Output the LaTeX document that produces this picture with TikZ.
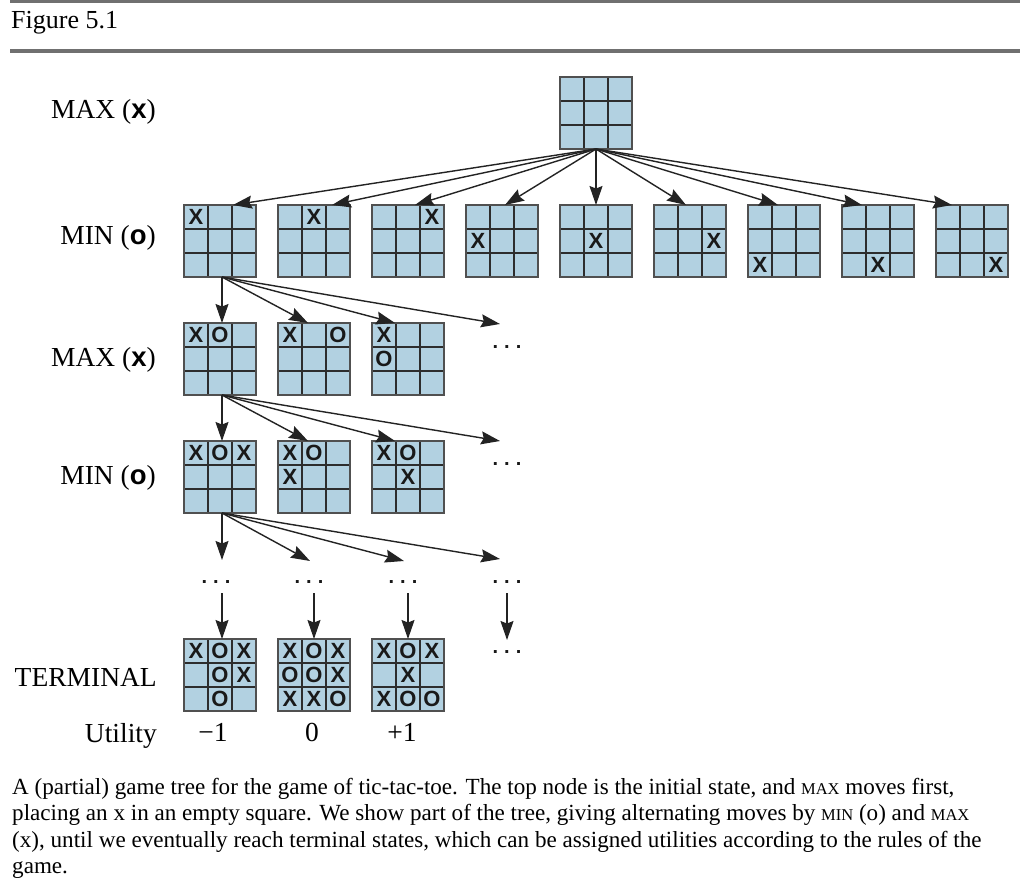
\documentclass[tikz,border=0pt]{standalone}
\usepackage{fontspec}
\setmainfont{Liberation Serif}
\newfontfamily\herosb{Liberation Sans Bold}
\usetikzlibrary{calc,arrows.meta}
\definecolor{boardblue}{RGB}{178,209,225}
\definecolor{gridgray}{RGB}{45,45,45}
\definecolor{framegray}{RGB}{80,80,80}
\definecolor{linec}{RGB}{35,35,35}
\definecolor{rulegray}{RGB}{112,112,112}
\definecolor{markc}{RGB}{25,25,25}
\tikzset{
 board/.style={fill=boardblue, inner sep=0, outer sep=0, minimum size=72pt, draw=none},
 gridln/.style={draw=gridgray, line width=1.8pt},
 frame/.style={draw=framegray, line width=2.2pt},
 xomark/.style={font=\herosb\fontsize{22}{22}\selectfont, text=markc, inner sep=0},
 arr/.style={draw=linec, line width=1.4pt, -{Stealth[length=19pt,width=13pt,inset=2.5pt]}},
 lab/.style={font=\fontsize{27.5}{30}\selectfont, anchor=base east, inner sep=0},
 val/.style={font=\fontsize{27.5}{30}\selectfont, anchor=base, inner sep=0},
 dotsn/.style={font=\herosb\fontsize{20}{20}\selectfont, text=markc, inner sep=0},
 capline/.style={font=\fontsize{23.1}{26}\selectfont, anchor=base west, inner sep=0},
 rulel/.style={draw=rulegray, line width=3.2pt}
}
\newcommand\fakesc[1]{{\fontsize{16.5}{18}\selectfont #1}}
\newcommand\tdots{.\hspace{6pt}.\hspace{6pt}.}
\newcommand\tttb[3]{%
 \node[board] (#1) at ({#2+36},{#3+36}) {};
 \draw[gridln] ({#2+24},#3) -- ({#2+24},{#3+72}) ({#2+48},#3) -- ({#2+48},{#3+72})
   (#2,{#3+24}) -- ({#2+72},{#3+24}) (#2,{#3+48}) -- ({#2+72},{#3+48});
 \draw[frame] (#1.north west) rectangle (#1.south east);}
\newcommand\tttmark[4]{\node[xomark] (#1-#2#3) at ($(#1.north west)+({12+24*#2},{12+24*#3})$) {#4};}
\begin{document}
\begin{tikzpicture}[x=1pt,y=-1pt]
\fill[white] (0,0) rectangle (1028,880);
\useasboundingbox (0,0) rectangle (1028,880);
% header
\draw[rulel] (10,1.5) -- (1020,1.5);
\node[font=\fontsize{26}{28}\selectfont, anchor=base west, inner sep=0] (fig) at (11,29) {Figure 5.1};
\draw[rulel] (10,51) -- (1020,51);
% labels
\node[lab] (l1) at (156,119) {MAX ({\herosb x})};
\node[lab] (l2) at (156,244) {MIN ({\herosb o})};
\node[lab] (l3) at (156,366) {MAX ({\herosb x})};
\node[lab] (l4) at (156,484) {MIN ({\herosb o})};
\node[lab] (l5) at (157,686) {TERMINAL};
\node[lab] (l6) at (157,742) {Utility};
% top board
\tttb{top}{560}{77}
% row 2
\tttb{b1}{184}{205} \tttmark{b1}{0}{0}{X}
\tttb{b2}{278}{205} \tttmark{b2}{1}{0}{X}
\tttb{b3}{372}{205} \tttmark{b3}{2}{0}{X}
\tttb{b4}{466}{205} \tttmark{b4}{0}{1}{X}
\tttb{b5}{560}{205} \tttmark{b5}{1}{1}{X}
\tttb{b6}{654}{205} \tttmark{b6}{2}{1}{X}
\tttb{b7}{748}{205} \tttmark{b7}{0}{2}{X}
\tttb{b8}{842}{205} \tttmark{b8}{1}{2}{X}
\tttb{b9}{936}{205} \tttmark{b9}{2}{2}{X}
% row 3
\tttb{c1}{184}{323} \tttmark{c1}{0}{0}{X} \tttmark{c1}{1}{0}{O}
\tttb{c2}{278}{323} \tttmark{c2}{0}{0}{X} \tttmark{c2}{2}{0}{O}
\tttb{c3}{372}{323} \tttmark{c3}{0}{0}{X} \tttmark{c3}{0}{1}{O}
% row 4
\tttb{d1}{184}{441} \tttmark{d1}{0}{0}{X} \tttmark{d1}{1}{0}{O} \tttmark{d1}{2}{0}{X}
\tttb{d2}{278}{441} \tttmark{d2}{0}{0}{X} \tttmark{d2}{1}{0}{O} \tttmark{d2}{0}{1}{X}
\tttb{d3}{372}{441} \tttmark{d3}{0}{0}{X} \tttmark{d3}{1}{0}{O} \tttmark{d3}{1}{1}{X}
% terminal
\tttb{t1}{184}{639} \tttmark{t1}{0}{0}{X} \tttmark{t1}{1}{0}{O} \tttmark{t1}{2}{0}{X}
 \tttmark{t1}{1}{1}{O} \tttmark{t1}{2}{1}{X} \tttmark{t1}{1}{2}{O}
\tttb{t2}{278}{639} \tttmark{t2}{0}{0}{X} \tttmark{t2}{1}{0}{O} \tttmark{t2}{2}{0}{X}
 \tttmark{t2}{0}{1}{O} \tttmark{t2}{1}{1}{O} \tttmark{t2}{2}{1}{X}
 \tttmark{t2}{0}{2}{X} \tttmark{t2}{1}{2}{X} \tttmark{t2}{2}{2}{O}
\tttb{t3}{372}{639} \tttmark{t3}{0}{0}{X} \tttmark{t3}{1}{0}{O} \tttmark{t3}{2}{0}{X}
 \tttmark{t3}{1}{1}{X}
 \tttmark{t3}{0}{2}{X} \tttmark{t3}{1}{2}{O} \tttmark{t3}{2}{2}{O}
% dots
\node[dotsn] (r3d) at (507,347) {\tdots};
\node[dotsn] (r4d) at (507,464) {\tdots};
\node[dotsn] (e1) at (216,582) {\tdots};
\node[dotsn] (e2) at (309,582) {\tdots};
\node[dotsn] (e3) at (403,582) {\tdots};
\node[dotsn] (e4) at (507,582) {\tdots};
\node[dotsn] (f4) at (507,652) {\tdots};
% utilities
\node[val] (u1) at (213,741) {−1};
\node[val] (u2) at (312,741) {0};
\node[val] (u3) at (402,741) {+1};
% free arrow ends
\coordinate (c4) at (500,324);
\coordinate (d4) at (500,441);
\coordinate (g1) at (222,560);
\coordinate (g2) at (310,561);
\coordinate (g3) at (404,561);
\coordinate (g4) at (500,559);
% arrows: top -> row 2
\draw[arr] (top.south) -- ([xshift=13pt]b1.north);
\draw[arr] (top.south) -- ([xshift=18pt]b2.north);
\draw[arr] (top.south) -- ([xshift=7pt]b3.north);
\draw[arr] (top.south) -- ([xshift=3pt]b4.north);
\draw[arr] (top.south) -- (b5.north);
\draw[arr] (top.south) -- ([xshift=-4pt]b6.north);
\draw[arr] (top.south) -- ([xshift=-6pt]b7.north);
\draw[arr] (top.south) -- ([xshift=-16pt]b8.north);
\draw[arr] (top.south) -- ([xshift=-20pt]b9.north);
% row 2 -> row 3
\draw[arr] ([xshift=2pt]b1.south) -- ([xshift=2pt]c1.north);
\draw[arr] ([xshift=2pt]b1.south) -- ([xshift=-6pt]c2.north);
\draw[arr] ([xshift=2pt]b1.south) -- ([xshift=-13pt]c3.north);
\draw[arr] ([xshift=2pt]b1.south) -- (c4);
% row 3 -> row 4
\draw[arr] ([xshift=2pt]c1.south) -- ([xshift=2pt]d1.north);
\draw[arr] ([xshift=2pt]c1.south) -- ([xshift=-6pt]d2.north);
\draw[arr] ([xshift=2pt]c1.south) -- ([xshift=-13pt]d3.north);
\draw[arr] ([xshift=2pt]c1.south) -- (d4);
% row 4 -> dots
\draw[arr] ([xshift=2pt]d1.south) -- (g1);
\draw[arr] ([xshift=2pt]d1.south) -- (g2);
\draw[arr] ([xshift=2pt]d1.south) -- (g3);
\draw[arr] ([xshift=2pt]d1.south) -- (g4);
% dots -> terminal
\draw[arr] ([xshift=6pt,yshift=-11pt]e1.center) -- ([xshift=2pt]t1.north);
\draw[arr] ([xshift=5pt,yshift=-11pt]e2.center) -- ([xshift=0pt]t2.north);
\draw[arr] ([xshift=5pt,yshift=-11pt]e3.center) -- ([xshift=0pt]t3.north);
\draw[arr] ([yshift=-11pt]e4.center) -- ([yshift=12pt]f4.center);
% caption
\node[capline] (k1) at (12,794) {A (partial) game tree for the game of tic-tac-toe. The top node is the initial state, and \fakesc{MAX} moves first,};
\node[capline] (k2) at (12,820.5) {placing an x in an empty square. We show part of the tree, giving alternating moves by \fakesc{MIN} (o) and \fakesc{MAX}};
\node[capline] (k3) at (12,847) {(x), until we eventually reach terminal states, which can be assigned utilities according to the rules of the};
\node[capline] (k4) at (12,873.5) {game.};
\end{tikzpicture}
\end{document}
